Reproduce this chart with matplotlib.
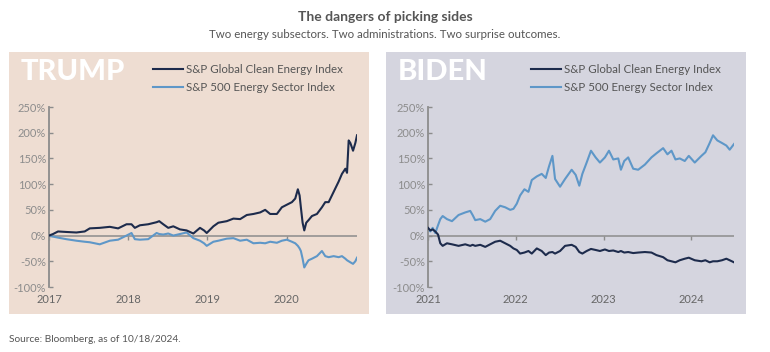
import matplotlib
matplotlib.use("Agg")
from matplotlib import pyplot as plt
from matplotlib.patches import Rectangle
import numpy as np

plt.rcParams['font.family'] = ['Lato', 'DejaVu Sans']

##### Data (decimal years, % change)
trump_years = [2017.000, 2017.051, 2017.114, 2017.219, 2017.346, 2017.451, 2017.515, 2017.641,
               2017.768, 2017.873, 2017.979, 2018.042, 2018.084, 2018.148, 2018.253, 2018.359,
               2018.392, 2018.443, 2018.506, 2018.570, 2018.654, 2018.738, 2018.823, 2018.907,
               2018.958, 2018.992, 2019.076, 2019.139, 2019.245, 2019.329, 2019.414, 2019.498,
               2019.582, 2019.667, 2019.730, 2019.793, 2019.878, 2019.941, 2020.004, 2020.068,
               2020.110, 2020.143, 2020.165, 2020.181, 2020.203, 2020.224, 2020.249, 2020.278,
               2020.321, 2020.384, 2020.447, 2020.489, 2020.532, 2020.595, 2020.658, 2020.700,
               2020.743, 2020.764, 2020.785, 2020.806, 2020.840, 2020.869, 2020.890]
trump_clean = [0, 3, 8, 7, 6, 8, 14, 15, 17, 14, 22, 22, 15, 20, 22, 26,
               28, 22, 15, 18, 12, 10, 4, 15, 10, 5, 18, 25, 28, 33, 32, 40,
               42, 45, 50, 42, 42, 55, 60, 65, 72, 90, 78, 55, 25, 10, 25, 30,
               38, 42, 55, 65, 65, 85, 105, 120, 130, 122, 185, 180, 165, 180, 195]
trump_energy = [0, -2, -4, -7, -10, -12, -13, -17, -10, -8, 0, 5, -7, -8, -7, 5,
                3, 2, 4, 0, 3, 6, -5, -10, -15, -20, -12, -10, -6, -5, -10, -8,
                -15, -14, -15, -12, -14, -10, -8, -12, -15, -20, -25, -30, -45, -62, -55, -48,
                -45, -40, -30, -40, -42, -40, -42, -40, -45, -48, -50, -52, -55, -50, -43]

biden_years = [2021.000, 2021.027, 2021.053, 2021.083, 2021.114, 2021.140, 2021.167, 2021.216,
               2021.273, 2021.348, 2021.424, 2021.481, 2021.508, 2021.538, 2021.595, 2021.652,
               2021.708, 2021.765, 2021.822, 2021.879, 2021.936, 2021.973, 2022.011, 2022.049,
               2022.098, 2022.144, 2022.182, 2022.239, 2022.295, 2022.341, 2022.379, 2022.417,
               2022.447, 2022.504, 2022.561, 2022.636, 2022.682, 2022.723, 2022.758, 2022.807,
               2022.856, 2022.909, 2022.958, 2023.015, 2023.061, 2023.110, 2023.167, 2023.197,
               2023.235, 2023.280, 2023.337, 2023.394, 2023.470, 2023.545, 2023.602, 2023.678,
               2023.727, 2023.773, 2023.818, 2023.867, 2023.924, 2023.970, 2024.038, 2024.114,
               2024.159, 2024.208, 2024.246, 2024.295, 2024.348, 2024.398, 2024.436, 2024.485]
biden_clean = [15, 10, 12, 8, 2, -15, -20, -15, -17, -20, -17, -20, -18, -20, -18, -22,
               -17, -12, -10, -15, -20, -25, -28, -35, -33, -30, -35, -25, -30, -38, -33, -32,
               -35, -30, -20, -18, -22, -32, -35, -30, -26, -28, -30, -27, -30, -29, -32, -30,
               -33, -32, -34, -33, -32, -33, -38, -42, -48, -50, -52, -48, -45, -43, -48, -50,
               -48, -52, -50, -50, -48, -45, -48, -52]
biden_energy = [12, 8, 15, 5, 20, 32, 38, 32, 28, 40, 45, 48, 40, 30, 32, 27,
                32, 48, 58, 55, 50, 52, 62, 78, 90, 85, 108, 115, 120, 112, 135, 155,
                110, 95, 110, 128, 118, 97, 120, 142, 165, 152, 142, 152, 165, 148, 150, 128,
                145, 152, 130, 128, 138, 152, 160, 170, 158, 165, 148, 150, 145, 155, 142, 155,
                162, 180, 195, 185, 180, 175, 167, 178]

series_names = ['S&P Global Clean Energy Index', 'S&P 500 Energy Sector Index']
y_ticks = [-100, -50, 0, 50, 100, 150, 200, 250]

##### Style
NAVY = '#1d2b4c'
BLUE = '#5e97c8'
GRAY = '#8c8c8c'
TXT = '#555555'
W, H = 770, 352


def px(x0, y0, x1, y1):
    # pixel box -> figure fraction [left, bottom, width, height]
    return [x0 / W, 1 - y1 / H, (x1 - x0) / W, (y1 - y0) / H]


def panel(fig, box, bg, ax_box, years, clean, energy, label, xlim, leg_anchor):
    fig.patches.append(Rectangle(box[:2], box[2], box[3], transform=fig.transFigure,
                                 facecolor=bg, edgecolor='none', zorder=-10))
    ax = fig.add_axes(ax_box)
    ax.patch.set_visible(False)
    ax.axhline(0, color=GRAY, lw=1.1, zorder=1)
    l1, = ax.plot(years, clean, color=NAVY, lw=1.5, zorder=3)
    l2, = ax.plot(years, energy, color=BLUE, lw=1.5, zorder=2)
    ax.set_xlim(*xlim)
    ax.set_ylim(-100, 250)
    ax.set_yticks(y_ticks)
    ax.set_yticklabels([f'{v}%' for v in y_ticks])
    ax.tick_params(axis='y', direction='in', length=3, width=1, color=GRAY,
                   labelsize=8, labelcolor=GRAY, pad=2)
    years_t = list(range(int(xlim[0]), int(xlim[1]) + 1))
    ax.set_xticks(years_t)
    ax.set_xticklabels([str(y) for y in years_t])
    ax.tick_params(axis='x', length=0, labelsize=8, labelcolor='#666666', pad=5)
    for s in ['top', 'right', 'bottom']:
        ax.spines[s].set_visible(False)
    ax.spines['left'].set_color(GRAY)
    ax.spines['left'].set_linewidth(1.3)
    # ticks along the zero line
    sec = ax.secondary_xaxis(100 / 350)
    sec.set_xticks(years_t)
    sec.set_xticklabels([])
    sec.tick_params(length=3, color=GRAY, width=1)
    sec.spines['bottom'].set_visible(False)
    fig.text(box[0] + 12 / W, 1 - 72 / H, label, fontsize=21, fontweight='black',
             color='white', va='center', ha='left')
    fig.legend([l1, l2], series_names, loc='upper left', bbox_to_anchor=leg_anchor,
               frameon=False, fontsize=8.3, handlelength=2.6, handletextpad=0.3,
               labelspacing=0.6, labelcolor=TXT, borderaxespad=0, borderpad=0)
    return ax


fig = plt.figure(figsize=(W / 100, H / 100), dpi=100)

fig.text(0.5, 1 - 17 / H, 'The dangers of picking sides', ha='center', va='center',
         fontsize=10, fontweight='bold', color=TXT)
fig.text(0.5, 1 - 35 / H, 'Two energy subsectors. Two administrations. Two surprise outcomes.',
         ha='center', va='center', fontsize=8.3, color=TXT)

panel(fig, px(9, 52, 369, 314), '#eeddd2', px(49, 107, 357, 287),
      trump_years, trump_clean, trump_energy, 'TRUMP', (2017.0, 2020.89),
      (153 / W, 1 - 64 / H))
panel(fig, px(386, 52, 746, 314), '#d5d5df', px(428, 107, 734, 287),
      biden_years, biden_clean, biden_energy, 'BIDEN', (2021.0, 2024.485),
      (531 / W, 1 - 64 / H))

fig.text(9 / W, 1 - 339 / H, 'Source: Bloomberg, as of 10/18/2024.', ha='left', va='center',
         fontsize=7.3, color=TXT)

fig.savefig('out.png', dpi=100)
